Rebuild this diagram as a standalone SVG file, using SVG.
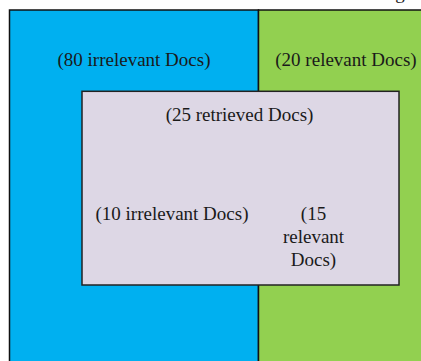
<svg xmlns="http://www.w3.org/2000/svg" width="421" height="361" viewBox="0 0 421 361">
<style>
.t{font-family:"Liberation Serif","Times New Roman",serif;font-size:19px;fill:#1a1a1a;text-anchor:middle}
.b{stroke:#111;stroke-width:1.5}
</style>
<rect width="421" height="361" fill="#ffffff"/>
<text class="t" x="400" y="-1">g</text>
<g id="irrelevant">
<rect class="b" x="9.5" y="10" width="249" height="360" fill="#00B0F0"/>
<text class="t" x="134" y="66">(80 irrelevant Docs)</text>
</g>
<g id="relevant">
<rect class="b" x="258.5" y="10" width="170" height="360" fill="#92D050"/>
<text class="t" x="346" y="66">(20 relevant Docs)</text>
</g>
<g id="retrieved">
<rect x="82" y="91.3" width="317" height="193.7" fill="#DDD7E5" stroke="#222" stroke-width="1.5"/>
<text class="t" x="239.5" y="121">(25 retrieved Docs)</text>
<text class="t" x="172" y="220">(10 irrelevant Docs)</text>
<text class="t" x="313.5" y="220">(15</text>
<text class="t" x="313.5" y="243">relevant</text>
<text class="t" x="313.5" y="266">Docs)</text>
</g>
<g id="connectors"></g>
</svg>
